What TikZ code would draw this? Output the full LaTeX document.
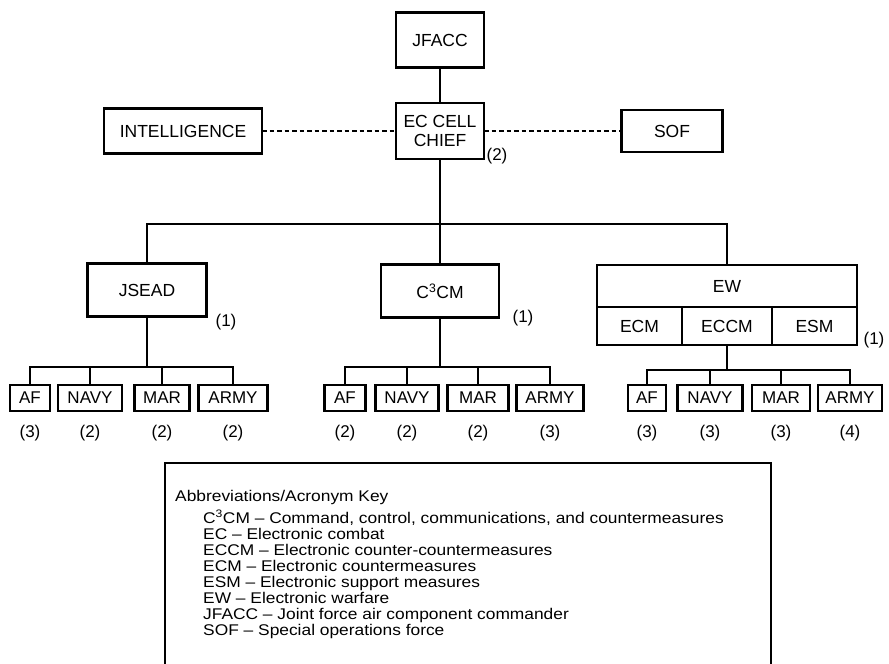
\documentclass[tikz,border=0pt]{standalone}
\usepackage{fontspec}
\setmainfont{Liberation Sans}
\newfontfamily\keyfont{Liberation Sans}[FakeStretch=1.12, Ligatures=TeX]
\usetikzlibrary{positioning}
\tikzset{
  orgbox/.style={draw=black, line width=2.3pt, fill=white, align=center, font=\fontsize{17.5}{19.5}\selectfont, inner sep=2pt, outer sep=0pt},
  unitbox/.style={draw=black, line width=2.3pt, fill=white, align=center, font=\fontsize{17}{19}\selectfont, inner sep=1pt, minimum height=26pt, outer sep=0pt},
  countlabel/.style={font=\fontsize{17}{19}\selectfont, inner sep=0pt},
  link/.style={line width=2.3pt, draw=black},
  dottedlink/.style={line width=2.8pt, dash pattern=on 4.5pt off 3pt},
  keyframe/.style={line width=1.6pt, draw=black},
  keytext/.style={font=\keyfont\fontsize{15.5}{16}\selectfont, align=left, inner sep=0pt}
}
\begin{document}
\begin{tikzpicture}[x=1pt, y=-1pt]
  \useasboundingbox[fill=white] (0,0) rectangle (889,664);
  % top of the cell
  \node[orgbox, minimum width=88pt, minimum height=55pt] (jfacc) at (440,40) {JFACC};
  \node[orgbox, minimum width=88pt, minimum height=56pt] (ecchief) at (440,131) {EC CELL\\CHIEF};
  \node[orgbox, minimum width=158pt, minimum height=45pt] (intel) at (183,131) {INTELLIGENCE};
  \node[orgbox, minimum width=101pt, minimum height=42pt] (sof) at (672,131) {SOF};
  \node[countlabel] (ecn) at (497,156) {(2)};
  \draw[link] (jfacc) -- (ecchief);
  \draw[dottedlink] (intel.east) -- (ecchief.west);
  \draw[dottedlink] (ecchief.east) -- (sof.west);
  % three branches
  \node[orgbox, minimum width=119pt, minimum height=53pt] (jsead) at (147,290) {JSEAD};
  \node[orgbox, minimum width=118pt, minimum height=53pt] (ccm) at (440,291) {C\textsuperscript{3}CM};
  \node[orgbox, minimum width=260pt, minimum height=42pt] (ew) at (727,286) {EW};
  \node[orgbox, minimum width=85pt, minimum height=38pt, anchor=north west] (ecm) at (ew.south west) {ECM};
  \node[orgbox, minimum width=90pt, minimum height=38pt, anchor=north west] (eccm) at (ecm.north east) {ECCM};
  \node[orgbox, minimum width=85pt, minimum height=38pt, anchor=north west] (esm) at (eccm.north east) {ESM};
  \node[countlabel] (jseadn) at (226,322) {(1)};
  \node[countlabel] (ccmn) at (523,318) {(1)};
  \node[countlabel] (ewn) at (874,340) {(1)};
  \coordinate (bus) at (440,224);
  \draw[link] (jsead.north) |- (bus) -| (ew.north);
  \draw[link] (ecchief.south) -- (ccm.north);
  % JSEAD services
  \coordinate (jbus) at (147,367);
  \node[unitbox, minimum width=40pt] (jaf) at (30,398) {AF};
  \node[unitbox, minimum width=64pt] (jnavy) at (90,398) {NAVY};
  \node[unitbox, minimum width=55pt] (jmar) at (162,398) {MAR};
  \node[unitbox, minimum width=69pt] (jarmy) at (233,398) {ARMY};
  \node[countlabel] (jafn) at (30,433) {(3)};
  \node[countlabel] (jnavyn) at (90,433) {(2)};
  \node[countlabel] (jmarn) at (162,433) {(2)};
  \node[countlabel] (jarmyn) at (233,433) {(2)};
  \draw[link] (jsead.south) -- (jbus);
  \draw[link] (jaf.north) |- (jbus) -| (jarmy.north);
  \draw[link] (jnavy.north) -- (jnavy.north |- jbus);
  \draw[link] (jmar.north) -- (jmar.north |- jbus);
  % C3CM services
  \coordinate (cbus) at (440,367);
  \node[unitbox, minimum width=41pt] (caf) at (345,398) {AF};
  \node[unitbox, minimum width=63pt] (cnavy) at (407,398) {NAVY};
  \node[unitbox, minimum width=61pt] (cmar) at (478,398) {MAR};
  \node[unitbox, minimum width=67pt] (carmy) at (550,398) {ARMY};
  \node[countlabel] (cafn) at (345,433) {(2)};
  \node[countlabel] (cnavyn) at (407,433) {(2)};
  \node[countlabel] (cmarn) at (478,433) {(2)};
  \node[countlabel] (carmyn) at (550,433) {(3)};
  \draw[link] (ccm.south) -- (cbus);
  \draw[link] (caf.north) |- (cbus) -| (carmy.north);
  \draw[link] (cnavy.north) -- (cnavy.north |- cbus);
  \draw[link] (cmar.north) -- (cmar.north |- cbus);
  % EW services
  \coordinate (ebus) at (727,370);
  \node[unitbox, minimum width=38pt] (eaf) at (647,398) {AF};
  \node[unitbox, minimum width=65pt] (enavy) at (710,398) {NAVY};
  \node[unitbox, minimum width=58pt] (emar) at (781,398) {MAR};
  \node[unitbox, minimum width=64pt] (earmy) at (850,398) {ARMY};
  \node[countlabel] (eafn) at (647,433) {(3)};
  \node[countlabel] (enavyn) at (710,433) {(3)};
  \node[countlabel] (emarn) at (781,433) {(3)};
  \node[countlabel] (earmyn) at (850,433) {(4)};
  \draw[link] (eccm.south) -- (ebus);
  \draw[link] (eaf.north) |- (ebus) -| (earmy.north);
  \draw[link] (enavy.north) -- (enavy.north |- ebus);
  \draw[link] (emar.north) -- (emar.north |- ebus);
  % key
  \draw[keyframe] (165,664) -- (165,463) -- (771,463) -- (771,664);
  \node[keytext, anchor=west] (keyhead) at (175,497) {Abbreviations/Acronym Key};
  \node[keytext, anchor=north west] (keylist) at (203,510) {C\textsuperscript{3}CM -- Command, control, communications, and countermeasures\\
    EC -- Electronic combat\\
    ECCM -- Electronic counter-countermeasures\\
    ECM -- Electronic countermeasures\\
    ESM -- Electronic support measures\\
    EW -- Electronic warfare\\
    JFACC -- Joint force air component commander\\
    SOF -- Special operations force};
\end{tikzpicture}
\end{document}
